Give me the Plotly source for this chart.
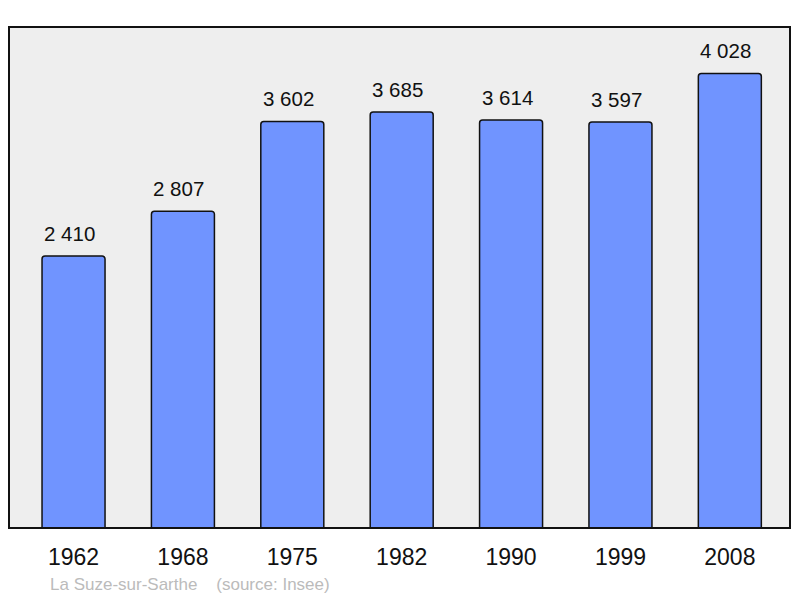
import plotly.graph_objects as go

years = ["1962", "1968", "1975", "1982", "1990", "1999", "2008"]
population = [2410, 2807, 3602, 3685, 3614, 3597, 4028]
value_labels = ["2 410", "2 807", "3 602", "3 685", "3 614", "3 597", "4 028"]
source_text = "La Suze-sur-Sarthe    (source: Insee)"

W, H = 800, 598
ml, mr, mt, mb = 9, 10, 27, 70
pw, ph = W - ml - mr, H - mt - mb
FONT = "Liberation Sans, Arial, sans-serif"

xs = list(range(len(years)))
fig = go.Figure()
fig.add_trace(go.Bar(
    x=xs, y=population, width=0.576,
    marker=dict(color="#7094ff", line=dict(color="#111111", width=1.5), cornerradius=3),
    hoverinfo="skip",
))
for i, (v, t) in enumerate(zip(population, value_labels)):
    fig.add_annotation(x=i, y=v, text=t, showarrow=False, yanchor="bottom", yshift=9, xshift=-4,
                       font=dict(size=20.5, color="#111111", family=FONT))
fig.add_annotation(xref="paper", yref="paper", x=(48 - ml) / pw, y=-56 / ph, xanchor="left", yanchor="middle",
                   text=source_text, showarrow=False,
                   font=dict(size=17, color="#bbbbbb", family=FONT))
fig.add_shape(type="rect", xref="paper", yref="paper", x0=0, y0=0, x1=1, y1=1,
              line=dict(color="#111111", width=2), layer="above")

fig.update_layout(
    width=W, height=H,
    margin=dict(l=ml, r=mr, t=mt, b=mb, pad=0),
    paper_bgcolor="white", plot_bgcolor="#eeeeee",
    showlegend=False,
    font=dict(family=FONT, color="#111111"),
    xaxis=dict(range=[-0.59, 6.55], tickmode="array", tickvals=xs, ticktext=years,
               tickfont=dict(size=23, color="#111111"), showgrid=False, zeroline=False,
               ticks="outside", ticklen=8, tickcolor="rgba(0,0,0,0)", fixedrange=True),
    yaxis=dict(range=[0, 4439], showticklabels=False, showgrid=False, zeroline=False, fixedrange=True),
)
fig.write_html("out.html", config={"displayModeBar": False},
               post_script="document.body.style.margin='0';document.body.style.overflow='hidden';")
